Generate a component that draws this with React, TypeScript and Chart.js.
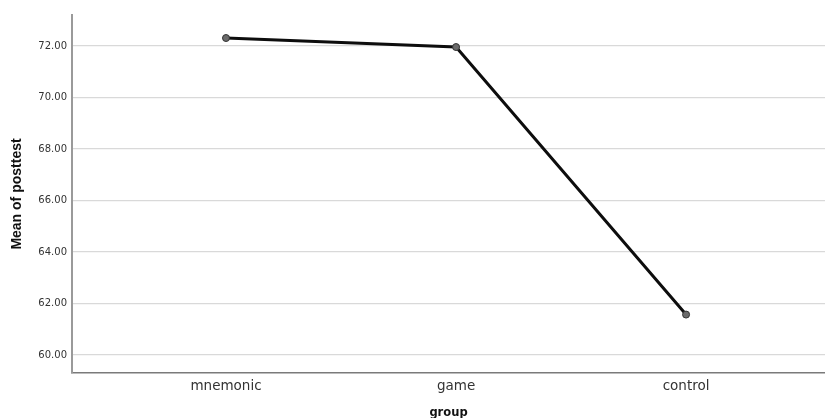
import React, { useEffect, useRef } from "react";
import { Chart, registerables } from "chart.js";

Chart.register(...registerables);

const categories: string[] = ["mnemonic", "game", "control"];
const means: number[] = [72.31, 71.96, 61.57];
const yTicks: number[] = [60, 62, 64, 66, 68, 70, 72];
const xTitle = "group";
const yTitle = "Mean of posttest";

const CANVAS_H = 426;

export default function App() {
  const ref = useRef<HTMLCanvasElement | null>(null);

  useEffect(() => {
    if (!ref.current) return;
    const chart = new Chart(ref.current, {
      type: "scatter",
      data: {
        datasets: [
          {
            data: categories.map((_, i) => ({ x: i, y: means[i] })),
            showLine: true,
            borderColor: "#0d0d0d",
            borderWidth: 3,
            pointRadius: 3.5,
            pointBackgroundColor: "#6b6b6b",
            pointBorderColor: "#333333",
            pointBorderWidth: 1,
          },
        ],
      },
      options: {
        animation: false,
        responsive: false,
        layout: { autoPadding: false, padding: { top: 15, left: 0, right: 0, bottom: 0 } },
        plugins: { legend: { display: false }, tooltip: { enabled: false } },
        scales: {
          x: {
            type: "linear",
            min: -0.6695,
            max: 2.604,
            grid: { display: false, drawTicks: false },
            border: { display: true, color: "#7a7a7a", width: 1.5 },
            afterBuildTicks: (scale: any) => {
              scale.ticks = categories.map((_, i) => ({ value: i }));
            },
            afterFit: (scale: any) => {
              scale.height = CANVAS_H - 373;
            },
            ticks: {
              padding: 5,
              maxRotation: 0,
              autoSkip: false,
              color: "#333333",
              font: { family: "'DejaVu Sans'", size: 13.5 },
              callback: (v: any) => categories[Number(v)] ?? "",
            },
            title: {
              display: true,
              text: xTitle,
              color: "#111111",
              font: { family: "'DejaVu Sans'", size: 11.5, weight: "bold" },
              padding: { top: 0, bottom: 6 },
            },
          },
          y: {
            type: "linear",
            min: 59.301,
            max: 73.204,
            grid: { display: true, color: "#d9d9d9", lineWidth: 1.2, drawTicks: false },
            border: { display: true, color: "#9a9a9a", width: 2 },
            afterBuildTicks: (scale: any) => {
              scale.ticks = yTicks.map((v) => ({ value: v }));
            },
            afterFit: (scale: any) => {
              scale.width = 72;
            },
            ticks: {
              padding: 5,
              color: "#333333",
              font: { family: "'DejaVu Sans'", size: 10 },
              callback: (v: any) => Number(v).toFixed(2),
            },
            title: {
              display: true,
              text: yTitle,
              color: "#111111",
              font: { family: "'Liberation Sans'", size: 14, weight: "bold" },
              padding: { top: 9, bottom: 0 },
            },
          },
        },
      },
    });
    return () => chart.destroy();
  }, []);

  return (
    <div style={{ position: "fixed", left: 0, top: 0, width: 825, height: 418, overflow: "hidden", background: "#fff" }}>
      <canvas ref={ref} width={825} height={CANVAS_H} style={{ width: 825, height: CANVAS_H, display: "block" }} />
    </div>
  );
}
